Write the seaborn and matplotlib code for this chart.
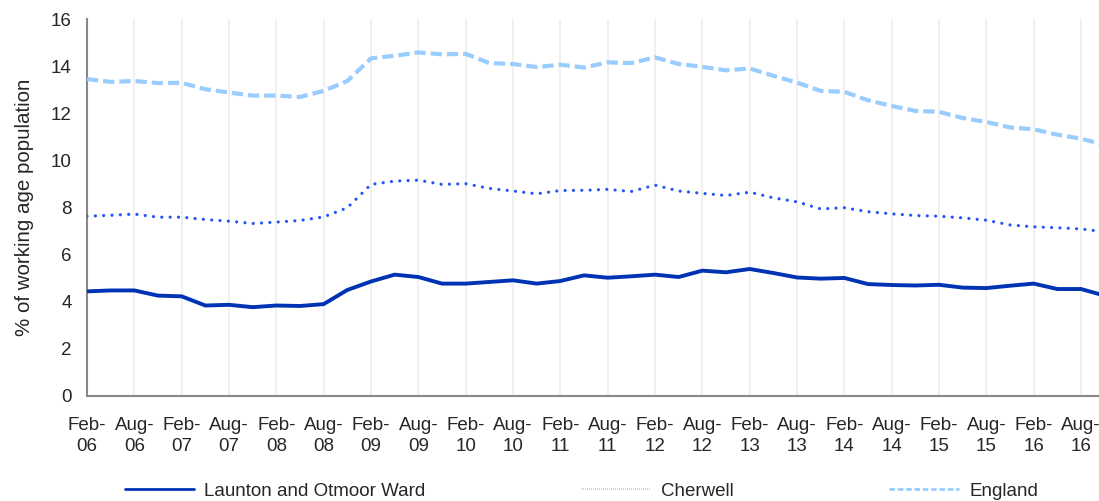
import numpy as np
import pandas as pd
import matplotlib
matplotlib.use("Agg")
import matplotlib.pyplot as plt
from matplotlib.lines import Line2D
import seaborn as sns

# ---------------- data ----------------
tick_labels = ["Feb-\n06", "Aug-\n06", "Feb-\n07", "Aug-\n07", "Feb-\n08", "Aug-\n08",
               "Feb-\n09", "Aug-\n09", "Feb-\n10", "Aug-\n10", "Feb-\n11", "Aug-\n11",
               "Feb-\n12", "Aug-\n12", "Feb-\n13", "Aug-\n13", "Feb-\n14", "Aug-\n14",
               "Feb-\n15", "Aug-\n15", "Feb-\n16", "Aug-\n16"]

launton = [4.44, 4.48, 4.48, 4.26, 4.23, 3.84, 3.87, 3.77, 3.84, 3.82, 3.90,
           4.50, 4.86, 5.15, 5.05, 4.77, 4.77, 4.84, 4.91, 4.77, 4.88, 5.12,
           5.02, 5.08, 5.15, 5.05, 5.32, 5.25, 5.39, 5.22, 5.03, 4.98,
           5.01, 4.75, 4.71, 4.69, 4.72, 4.60, 4.58, 4.68, 4.77, 4.54, 4.54, 4.26]

cherwell = [7.63, 7.67, 7.72, 7.59, 7.59, 7.49, 7.42, 7.32, 7.38, 7.45, 7.60,
            7.99, 8.98, 9.12, 9.16, 8.98, 9.01, 8.81, 8.70, 8.58, 8.72, 8.73,
            8.77, 8.68, 8.95, 8.70, 8.60, 8.51, 8.65, 8.41, 8.24, 7.94,
            7.99, 7.82, 7.73, 7.66, 7.63, 7.56, 7.46, 7.26, 7.18, 7.14, 7.09, 6.97]

england = [13.45, 13.33, 13.37, 13.28, 13.29, 13.02, 12.88, 12.75, 12.75, 12.69, 12.95,
           13.37, 14.33, 14.44, 14.58, 14.50, 14.52, 14.13, 14.09, 13.96, 14.06, 13.94,
           14.16, 14.13, 14.37, 14.09, 13.97, 13.82, 13.90, 13.59, 13.30, 12.95,
           12.91, 12.55, 12.31, 12.10, 12.06, 11.80, 11.63, 11.40, 11.32, 11.09, 10.92, 10.66]

series_names = ["Launton and Otmoor Ward", "Cherwell", "England"]

# quarterly index (Feb-06 = 0)
quarter = list(range(len(launton)))

# ---------------- style ----------------
sns.set_style("white")
plt.rcParams["font.family"] = ["Liberation Sans", "DejaVu Sans"]

c_launton = "#0033B4"
c_cherwell = "#2255F5"
c_england = "#99CCFF"
grey = "#888888"
FS = 13.5

fig = plt.figure(figsize=(10.99, 5.01), dpi=100)
ax = fig.add_axes([87 / 1099, 1 - 396 / 501, (1099 - 87) / 1099, (396 - 19) / 501])

# vertical gridlines
for xv in range(2, 43, 2):
    ax.axvline(xv, color="#EEEEEE", lw=1.2, zorder=0)

sns.lineplot(x=quarter, y=england, ax=ax, color=c_england, linewidth=3.0,
             errorbar=None, zorder=3)
ax.lines[-1].set_dashes([2.7, 1.2])

sns.lineplot(x=quarter, y=cherwell, ax=ax, color=c_cherwell, linewidth=2.3,
             errorbar=None, zorder=4)
ax.lines[-1].set_dashes([0.01, 2.6])
ax.lines[-1].set_dash_capstyle("round")

sns.lineplot(x=quarter, y=launton, ax=ax, color=c_launton, linewidth=2.8,
             errorbar=None, zorder=5)

ax.set_xlim(0, 42.76)
ax.set_ylim(0, 16)
ax.set_yticks(range(0, 17, 2))
ax.set_xticks(range(0, 43, 2))
ax.set_xticklabels(tick_labels, fontsize=FS, linespacing=1.32)
ax.tick_params(axis="y", labelsize=FS, direction="out", length=5, width=1.2,
               color=grey, pad=6)
ax.tick_params(axis="x", direction="out", length=5, width=1.2, color=grey, pad=10)

for s in ["top", "right"]:
    ax.spines[s].set_visible(False)
for s in ["left", "bottom"]:
    ax.spines[s].set_color(grey)
    ax.spines[s].set_linewidth(1.5)

ax.set_ylabel("% of working age population", fontsize=14.8, labelpad=12)
ax.set_xlabel("")

handles = [
    Line2D([0], [0], color=c_launton, lw=2),
    Line2D([0], [0], color="#B8C8FF", lw=1.2, dashes=[0.6, 0.6]),
    Line2D([0], [0], color=c_england, lw=2, dashes=[2, 1]),
]
fig.legend(handles, series_names, loc="center", bbox_to_anchor=(0.529, 10 / 501),
           ncol=3, frameon=False, fontsize=FS, handlelength=3.7, handletextpad=0.55,
           columnspacing=8.3)

fig.savefig("out.png", dpi=100)
